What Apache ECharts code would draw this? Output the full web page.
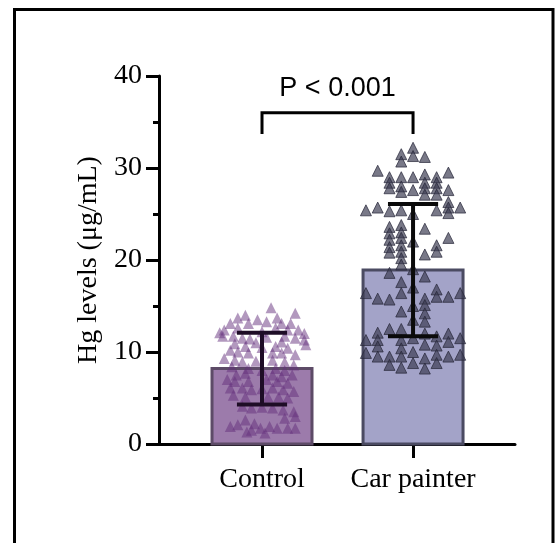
<!DOCTYPE html>
<html>
<head>
<meta charset="utf-8">
<title>Hg levels</title>
<script src="https://cdn.jsdelivr.net/npm/echarts@6.0.0/dist/echarts.min.js"></script>
<style>
  html, body { margin: 0; padding: 0; background: #fff; }
  #chart { width: 555px; height: 543px; }
</style>
</head>
<body>
<div id="chart"></div>
<script>
// groups and summary values (mean, SD)
const categories = ['Control', 'Car painter'];
const means = [8.2, 18.9];
const sds = [3.9, 7.2];
const yTicks = [0, 10, 20, 30, 40];
const pText = 'P < 0.001';

// control points: horizontal jitter (category units) and value
const controlJitter = [0.06, 0.22, -0.11, -0.16, -0.03, 0.10, 0.13, -0.21, -0.09, 0.03, 0.19, -0.25, -0.16, 0.09, 0.17, 0.24, 0.28, -0.26, -0.19, -0.13,
  -0.08, 0.15, 0.22, 0.28, 0.13, -0.18, -0.11, 0.09, 0.17, -0.21, -0.16, -0.09, 0.07, 0.13, 0.22, -0.25, -0.18, -0.13, 0.07, 0.15,
  0.21, -0.20, -0.09, 0.09, 0.15, -0.17, -0.11, 0.07, 0.13, 0.20, -0.18, -0.09, 0.10, 0.17, -0.21, -0.13, -0.07, 0.07, 0.14, 0.21,
  -0.19, -0.11, 0.04, 0.11, 0.17, -0.13, -0.07, 0.07, 0.14, 0.21, 0.15, 0.22, -0.11, -0.05, -0.21, -0.16, -0.07, -0.01, 0.05, 0.10,
  0.17, 0.22, 0.02, -0.10, 0, 0, 0, 0, 0, -0.28, -0.23, 0.29, -0.04, 0.03, -0.04, 0.03];
const controlValues = [14.8, 14.2, 14.0, 13.7, 13.5, 13.7, 13.1, 13.1, 13.1, 13.3, 13.1, 12.4, 12.6, 12.6, 12.4, 12.4, 12.0, 11.7, 11.7, 11.5,
  11.4, 11.7, 11.5, 11.3, 11.1, 10.9, 10.6, 10.6, 10.4, 10.2, 10.0, 9.9, 9.9, 9.9, 9.7, 9.3, 9.1, 8.9, 9.1, 8.9,
  8.6, 8.4, 8.2, 8.2, 8.0, 7.5, 7.7, 7.5, 7.3, 7.5, 6.8, 6.8, 6.8, 6.6, 6.1, 6.1, 5.9, 6.1, 5.9, 5.7,
  5.3, 5.1, 5.1, 5.1, 5.0, 4.1, 3.9, 3.9, 3.7, 3.5, 2.8, 3.0, 2.6, 2.2, 1.9, 2.1, 1.5, 1.7, 1.9, 1.7,
  1.7, 1.7, 1.2, 1.3, 12.2, 10.5, 8.0, 6.0, 4.0, 12.1, 7.0, 10.8, 11.0, 11.6, 9.0, 7.0];

// car painter points are stacked in columns (-4 .. 4 left to right)
const carColumns = [-4, -3, -2, -1, 0, 1, 2, 3, 4];
const carValues = [
  [25.4, 16.4, 11.3, 9.9],
  [29.7, 25.7, 15.8, 12.1, 11.3, 10.6, 9.5],
  [29.0, 28.4, 27.8, 25.3, 23.6, 22.9, 22.2, 21.4, 20.8, 18.6, 15.7, 12.5, 9.5, 8.6],
  [31.5, 30.7, 29.0, 28.0, 27.4, 25.4, 23.8, 23.0, 22.4, 21.6, 20.9, 20.2, 19.5, 17.6, 16.4, 14.4, 12.5, 11.3, 10.4, 9.5, 8.3],
  [32.2, 31.3, 29.0, 27.6, 25.0, 22.0, 19.0, 17.0, 15.0, 13.5, 11.5, 10.0, 8.8],
  [31.2, 29.3, 28.4, 27.8, 27.1, 23.4, 20.6, 18.2, 15.8, 15.1, 14.2, 13.3, 12.0, 10.8, 9.3, 8.2],
  [29.0, 28.4, 27.8, 27.1, 25.4, 21.6, 20.9, 16.8, 16.0, 11.7, 10.7, 9.7, 8.8],
  [29.5, 27.6, 26.3, 25.7, 25.1, 22.4, 16.0, 12.0, 11.1, 9.5],
  [25.7, 16.4, 11.5, 9.7]
];

const colStep = 0.078;
const barHalf = 0.331;
const capHalf = 0.166;
const serif = '"Liberation Serif", "Times New Roman", serif';

const controlData = controlValues.map((v, i) => [1 + controlJitter[i], v]);
const carData = [];
carColumns.forEach((c, ci) => {
  carValues[ci].forEach(v => carData.push([2 + c * colStep, v]));
});

const chart = echarts.init(document.getElementById('chart'), null, { renderer: 'canvas' });

const barFill = ['#9c7bab', '#a3a3c8'];
const barEdge = ['#5d4b67', '#4b4b62'];

chart.setOption({
  backgroundColor: '#fff',
  animation: false,
  graphic: [{
    type: 'rect',
    shape: { x: 14.5, y: 9.5, width: 538.5, height: 560 },
    style: { fill: null, stroke: '#000', lineWidth: 3 },
    silent: true
  }],
  grid: { left: 159, top: 76, right: 40, bottom: 99 },
  xAxis: {
    type: 'value',
    min: 0.318,
    max: 2.675,
    splitLine: { show: false },
    axisLine: { show: true, lineStyle: { color: '#000', width: 3 } },
    axisTick: { show: true, customValues: [1, 2], length: 14, lineStyle: { color: '#000', width: 3 } },
    axisLabel: {
      customValues: [1, 2],
      formatter: v => categories[Math.round(v) - 1],
      margin: 22,
      color: '#000',
      fontFamily: serif,
      fontSize: 28
    }
  },
  yAxis: {
    type: 'value',
    min: yTicks[0],
    max: yTicks[yTicks.length - 1],
    interval: 10,
    name: 'Hg levels (μg/mL)',
    nameLocation: 'middle',
    nameGap: 56,
    nameTextStyle: { color: '#000', fontFamily: serif, fontSize: 28 },
    splitLine: { show: false },
    axisLine: { show: true, lineStyle: { color: '#000', width: 3 } },
    axisTick: { show: true, length: 13, lineStyle: { color: '#000', width: 3 } },
    minorTick: { show: true, splitNumber: 2, length: 6, lineStyle: { color: '#000', width: 3 } },
    axisLabel: { margin: 17, color: '#000', fontFamily: serif, fontSize: 28 }
  },
  series: [
    {
      type: 'custom',
      name: 'bars',
      data: means.map((m, i) => [i + 1, m]),
      encode: { x: 0, y: 1 },
      renderItem: (params, api) => {
        const x = api.value(0), y = api.value(1);
        const p0 = api.coord([x - barHalf, y]);
        const p1 = api.coord([x + barHalf, 0]);
        return {
          type: 'rect',
          shape: { x: p0[0], y: p0[1], width: p1[0] - p0[0], height: p1[1] - p0[1] },
          style: { fill: barFill[params.dataIndex], stroke: barEdge[params.dataIndex], lineWidth: 3 }
        };
      }
    },
    {
      type: 'scatter',
      name: categories[0],
      data: controlData,
      symbol: 'triangle',
      symbolSize: 11,
      itemStyle: { color: 'rgba(99,46,123,0.62)' }
    },
    {
      type: 'scatter',
      name: categories[1],
      data: carData,
      symbol: 'triangle',
      symbolSize: 11,
      itemStyle: { color: 'rgba(58,58,80,0.85)', borderColor: 'rgba(40,40,58,0.9)', borderWidth: 1 }
    },
    {
      type: 'custom',
      name: 'sd',
      data: means.map((m, i) => [i + 1, m, sds[i]]),
      encode: { x: 0, y: 1 },
      z: 5,
      renderItem: (params, api) => {
        const x = api.value(0), m = api.value(1), s = api.value(2);
        const top = api.coord([x, m + s]);
        const bot = api.coord([x, m - s]);
        const l = api.coord([x - capHalf, m])[0];
        const r = api.coord([x + capHalf, m])[0];
        const st = { stroke: params.dataIndex === 0 ? '#1e0d26' : '#0a0a0a', lineWidth: 4 };
        return {
          type: 'group',
          children: [
            { type: 'line', shape: { x1: top[0], y1: top[1], x2: bot[0], y2: bot[1] }, style: st },
            { type: 'line', shape: { x1: l, y1: top[1], x2: r, y2: top[1] }, style: st },
            { type: 'line', shape: { x1: l, y1: bot[1], x2: r, y2: bot[1] }, style: st }
          ]
        };
      }
    },
    {
      type: 'custom',
      name: 'significance',
      data: [[1, 2, 33.7, 36]],
      encode: { x: [0, 1], y: [2, 3] },
      z: 5,
      clip: false,
      renderItem: (params, api) => {
        const a = api.value(0), b = api.value(1), lo = api.value(2), hi = api.value(3);
        const pts = [api.coord([a, lo]), api.coord([a, hi]), api.coord([b, hi]), api.coord([b, lo])];
        const t = api.coord([(a + b) / 2, 38.6]);
        return {
          type: 'group',
          children: [
            { type: 'polyline', shape: { points: pts }, style: { stroke: '#000', lineWidth: 3, fill: null } },
            {
              type: 'text',
              x: t[0], y: t[1],
              style: {
                text: pText, fill: '#000', align: 'center', verticalAlign: 'middle',
                font: '27px "Liberation Sans", Arial, sans-serif'
              }
            }
          ]
        };
      }
    }
  ]
});
</script>
</body>
</html>
